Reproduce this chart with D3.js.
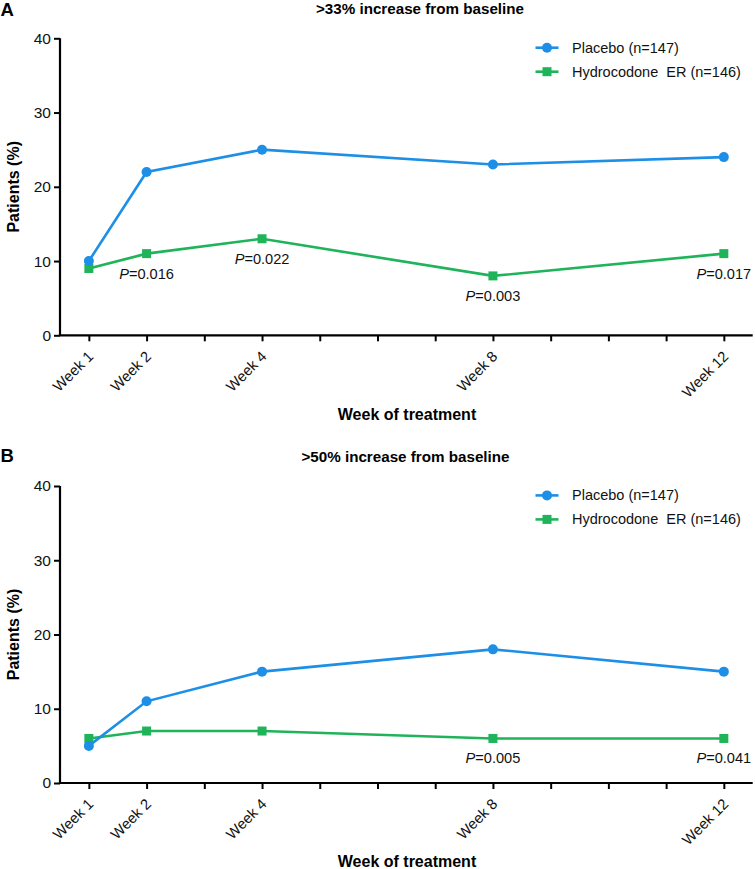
<!DOCTYPE html>
<html><head><meta charset="utf-8">
<script src="https://cdn.jsdelivr.net/npm/d3@7"></script>
<style>body{margin:0;background:#fff}svg{display:block;font-family:"Liberation Sans",Arial,sans-serif}</style>
</head><body><svg id="c" width="755" height="869"></svg>
<script>
const weeks = [1, 2, 4, 8, 12];
const weekLabels = ["Week 1", "Week 2", "Week 4", "Week 8", "Week 12"];
const yTicks = [0, 10, 20, 30, 40];
const seriesNames = ["Placebo (n=147)", "Hydrocodone  ER (n=146)"];
const placeboA = [10, 22, 25, 23, 24];
const hydroA = [9, 11, 13, 8, 11];
const placeboB = [5, 11, 15, 18, 15];
const hydroB = [6, 7, 7, 6, 6];
const pWeeksA = [2, 4, 8, 12];
const pValuesA = ["0.016", "0.022", "0.003", "0.017"];
const pWeeksB = [8, 12];
const pValuesB = ["0.005", "0.041"];
const titles = [">33% increase from baseline", ">50% increase from baseline"];
const panelLetters = ["A", "B"];

const BLUE = "#1d8fe6", GREEN = "#1fb35a";
const svg = d3.select("#c");
const x = d3.scaleLinear().domain([0.5, 12.5]).range([60, 752.7]);

const panels = [
  {top: 0, p: placeboA, h: hydroA, pw: pWeeksA, pv: pValuesA, title: titles[0], letter: panelLetters[0], titleX: 420, titleY: 13.5, letterY: 16},
  {top: 447.7, p: placeboB, h: hydroB, pw: pWeeksB, pv: pValuesB, title: titles[1], letter: panelLetters[1], titleX: 405.5, titleY: 461.5, letterY: 462}
];

panels.forEach(P => {
  const g = svg.append("g");
  const y = d3.scaleLinear().domain([0, 40]).range([P.top + 335.3, P.top + 38.3]);
  g.append("text").attr("x", 0.5).attr("y", P.letterY).attr("font-size", 18.5).attr("font-weight", "bold").text(P.letter);
  g.append("text").attr("x", P.titleX).attr("y", P.titleY).attr("text-anchor", "middle")
    .attr("font-size", 15.2).attr("font-weight", "bold").text(P.title);

  // y axis
  const ya = g.append("g").attr("transform", `translate(60,0)`)
    .call(d3.axisLeft(y).tickValues(yTicks).tickSize(6).tickPadding(3));
  ya.select(".domain").attr("stroke", "#000").attr("stroke-width", 2.2).attr("d", `M0,${y(0)}V${y(40)}`);
  ya.selectAll(".tick line").attr("stroke", "#000").attr("stroke-width", 2);
  ya.selectAll(".tick text").attr("font-size", 15.5).attr("fill", "#111").attr("font-family", "Liberation Sans, Arial, sans-serif");

  // x axis
  const xa = g.append("g").attr("transform", `translate(0,${y(0)})`)
    .call(d3.axisBottom(x).tickValues(d3.range(1, 13)).tickSize(6).tickFormat(d => {
      const i = weeks.indexOf(d); return i >= 0 ? weekLabels[i] : "";
    }));
  xa.select(".domain").attr("stroke", "#000").attr("stroke-width", 2.2).attr("d", `M${x.range()[0]},0H${x.range()[1]}`);
  xa.selectAll(".tick line").attr("stroke", "#000").attr("stroke-width", 2);
  xa.selectAll(".tick text").attr("font-size", 14.8).attr("fill", "#111")
    .attr("font-family", "Liberation Sans, Arial, sans-serif")
    .attr("text-anchor", "end").attr("y", 0).attr("dy", 0)
    .attr("transform", "translate(5,22) rotate(-45)");

  // axis titles
  g.append("text").attr("transform", `translate(19,${(y(0) + y(40)) / 2}) rotate(-90)`)
    .attr("text-anchor", "middle").attr("font-size", 16).attr("font-weight", "bold").text("Patients (%)");
  g.append("text").attr("x", 407).attr("y", P.top + 419.5).attr("text-anchor", "middle")
    .attr("font-size", 16).attr("font-weight", "bold").text("Week of treatment");

  const line = d3.line().x((d, i) => x(weeks[i])).y(d => y(d));
  g.append("path").datum(P.h).attr("d", line).attr("fill", "none").attr("stroke", GREEN).attr("stroke-width", 2.6);
  g.append("path").datum(P.p).attr("d", line).attr("fill", "none").attr("stroke", BLUE).attr("stroke-width", 2.6);
  g.selectAll(".sq").data(P.h).join("rect").attr("x", (d, i) => x(weeks[i]) - 4.5).attr("y", d => y(d) - 4.5)
    .attr("width", 9).attr("height", 9).attr("fill", GREEN);
  g.selectAll(".ci").data(P.p).join("circle").attr("cx", (d, i) => x(weeks[i])).attr("cy", d => y(d))
    .attr("r", 5).attr("fill", BLUE);

  // p-values
  P.pw.forEach((w, k) => {
    const i = weeks.indexOf(w);
    const t = g.append("text").attr("x", x(w)).attr("y", y(P.h[i]) + 25).attr("text-anchor", "middle")
      .attr("font-size", 14.6).attr("fill", "#111");
    t.append("tspan").attr("font-style", "italic").text("P");
    t.append("tspan").text("=" + P.pv[k]);
  });

  // legend
  const cols = [BLUE, GREEN];
  seriesNames.forEach((n, k) => {
    const ly = P.top + 47.7 + k * 24;
    g.append("line").attr("x1", 535.5).attr("x2", 558.5).attr("y1", ly).attr("y2", ly).attr("stroke", cols[k]).attr("stroke-width", 2.6);
    if (k === 0) g.append("circle").attr("cx", 547).attr("cy", ly).attr("r", 5).attr("fill", cols[k]);
    else g.append("rect").attr("x", 542.5).attr("y", ly - 4.5).attr("width", 9).attr("height", 9).attr("fill", cols[k]);
    g.append("text").attr("x", 572).attr("y", ly + 5).attr("font-size", 14.5).attr("fill", "#111").attr("xml:space", "preserve").style("white-space", "pre").text(n);
  });
});
</script></body></html>
